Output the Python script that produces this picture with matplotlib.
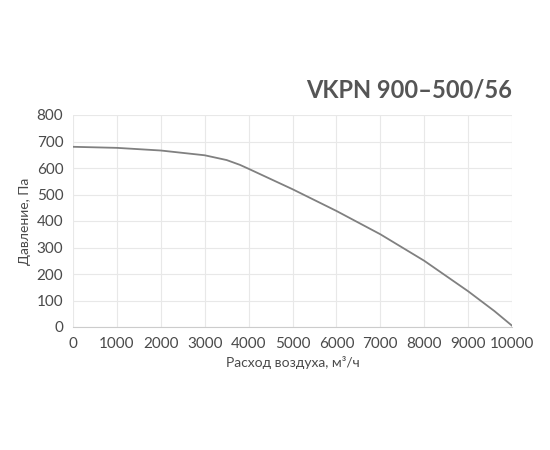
import matplotlib
matplotlib.use("Agg")
import matplotlib.pyplot as plt

plt.rcParams['font.family'] = ['Lato', 'DejaVu Sans']

airflow = [0, 1000, 2000, 3000, 3500, 3800, 4000, 5000, 6000, 7000, 8000, 9000, 9600, 10000]
pressure = [680, 676, 666, 648, 630, 612, 597, 520, 438, 350, 250, 135, 60, 5]
xticks = list(range(0, 10001, 1000))
yticks = list(range(0, 801, 100))

fig = plt.figure(figsize=(5.5, 4.5), dpi=100)
ax = fig.add_axes([73/550, 1-327/450, (512-73)/550, (327-115)/450])
ax.plot(airflow, pressure, color="#808080", lw=1.3)
ax.set_xlim(0, 10000)
ax.set_ylim(0, 800)
ax.set_xticks(xticks)
ax.set_yticks(yticks)
ax.grid(color="#e8e8e8", lw=0.8)
for s in ax.spines.values():
    s.set_visible(False)
ax.spines["bottom"].set_visible(True)
ax.spines["bottom"].set_color("#cccccc")
ax.tick_params(length=0, labelsize=11, colors="#4a4a4a", pad=7)
ax.set_xlabel("Расход воздуха, м³/ч", fontsize=10, color="#4a4a4a")
ax.set_ylabel("Давление, Па", fontsize=10, color="#4a4a4a")
fig.text(512/550, 1-90/450, "VKPN 900–500/56", ha="right", va="center",
         fontsize=17, fontweight="bold", color="#555555")
fig.savefig("out.png", dpi=100)
